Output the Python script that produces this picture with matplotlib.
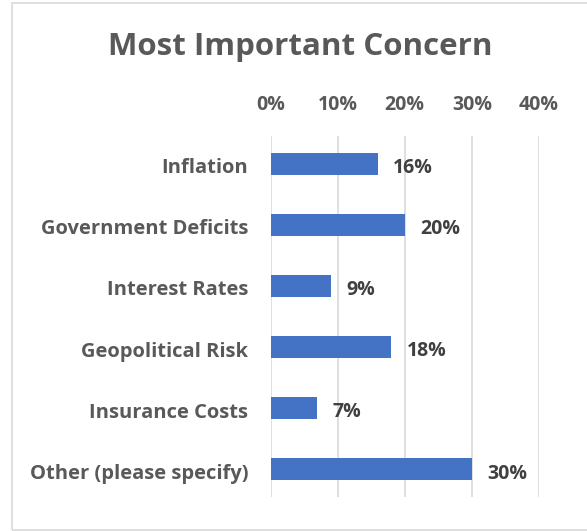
import matplotlib
matplotlib.use("Agg")
import matplotlib.pyplot as plt
from matplotlib.patches import Rectangle
from matplotlib.ticker import FuncFormatter
from matplotlib.transforms import ScaledTranslation

categories = ["Inflation", "Government Deficits", "Interest Rates",
              "Geopolitical Risk", "Insurance Costs", "Other (please specify)"]
shares = [0.16, 0.20, 0.09, 0.18, 0.07, 0.30]
tick_values = [0.0, 0.1, 0.2, 0.3, 0.4]

FONT = ["Open Sans", "DejaVu Sans"]
plt.rcParams["font.family"] = FONT

fig = plt.figure(figsize=(5.87, 5.31), dpi=100)
fig.patch.set_facecolor("white")

# outer chart border
fig.patches.append(Rectangle((12 / 587, 1 / 531), 1.0, 527 / 531,
                             transform=fig.transFigure, fill=False,
                             edgecolor="#d9d9d9", linewidth=1.2))

ax = fig.add_axes([270.5 / 587, 1 - 497 / 531, 268.5 / 587, 361 / 531])
pos = list(range(len(categories)))
ax.barh(pos, shares, height=0.36, color="#4472c4", zorder=3)

ax.set_xlim(0, 0.4)
ax.set_ylim(5.45, -0.45)
ax.set_xticks(tick_values)
ax.xaxis.set_major_formatter(FuncFormatter(lambda v, _: f"{v * 100:.0f}%"))
ax.xaxis.tick_top()
ax.grid(axis="x", color="#d9d9d9", linewidth=1.2, zorder=0)
for s in ax.spines.values():
    s.set_visible(False)
ax.tick_params(axis="x", length=0, pad=15, labelsize=14, labelcolor="#595959")
ax.tick_params(axis="y", length=0, pad=16, labelsize=14.5, labelcolor="#595959")
for lab in ax.get_xticklabels():
    lab.set_fontweight("bold")
ax.set_yticks(pos)
ax.set_yticklabels(categories, fontweight="bold")
shift = ScaledTranslation(0, -2 / 100, fig.dpi_scale_trans)
for lab in ax.get_yticklabels():
    lab.set_transform(lab.get_transform() + shift)

for p, v in zip(pos, shares):
    ax.annotate(f"{v * 100:.0f}%", xy=(v, p), xytext=(11, -3),
                textcoords="offset points", ha="left", va="center",
                fontsize=14, fontweight="bold", color="#404040")

fig.text(300 / 587, 1 - 47 / 531, "Most Important Concern", ha="center",
         va="center", fontsize=22.5, fontweight="bold", color="#595959")

fig.savefig("out.png", dpi=100, facecolor="white")
